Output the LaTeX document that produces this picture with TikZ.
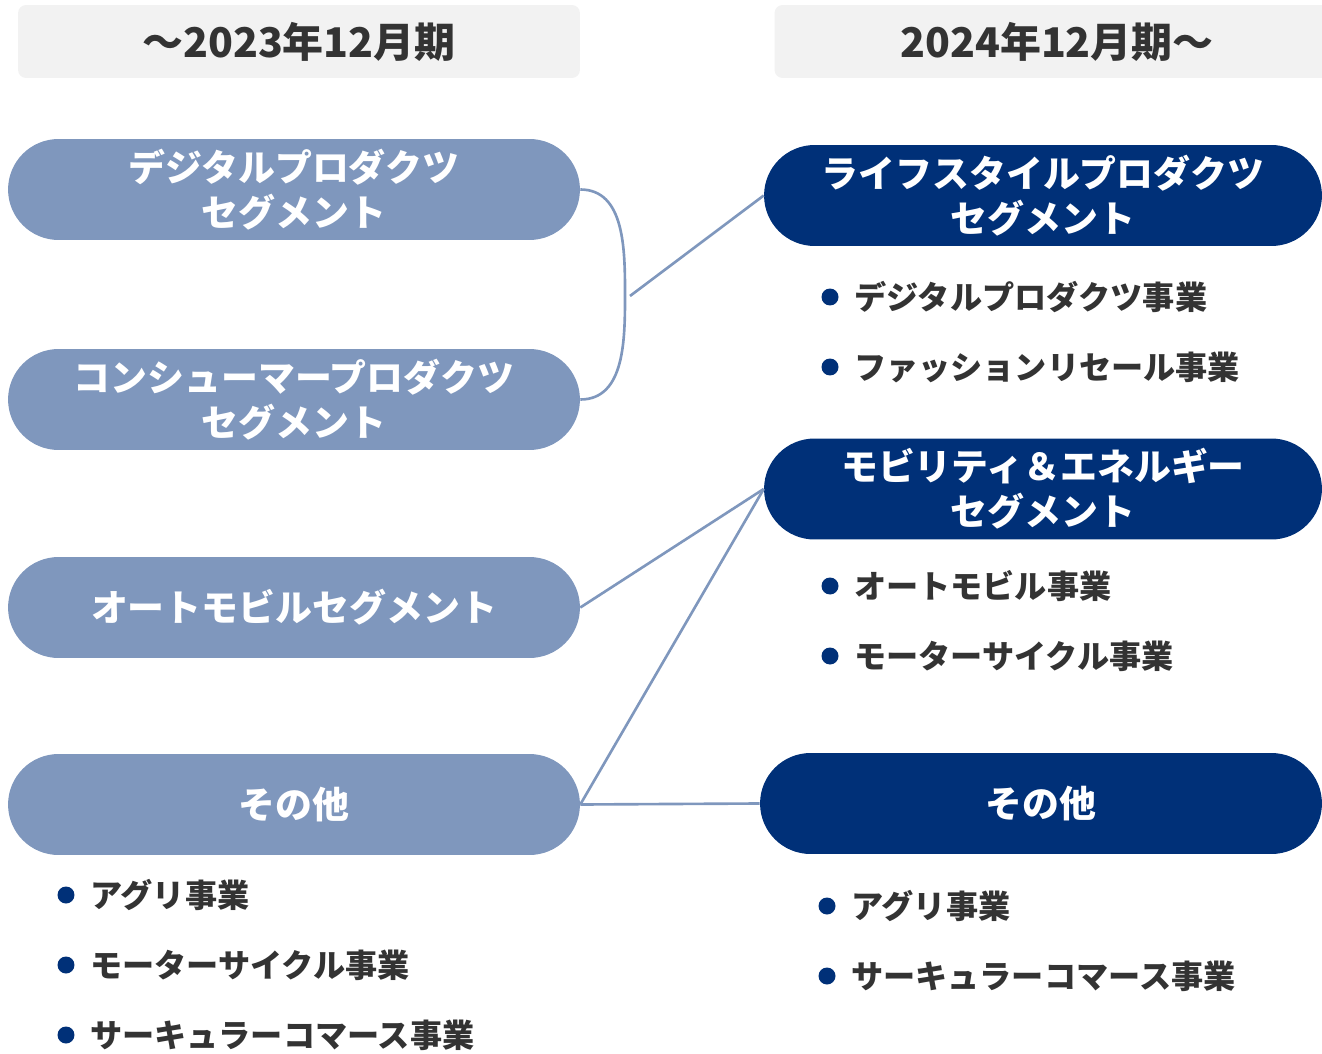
\documentclass[tikz,border=0pt]{standalone}
\usepackage{fontspec}
\usepackage{xcolor}
\usepackage{tikz}
\usetikzlibrary{positioning}
\newfontfamily\jp{Noto Sans CJK JP}
\definecolor{oldseg}{HTML}{7F97BD}
\definecolor{newseg}{HTML}{003078}
\definecolor{headgray}{HTML}{F2F2F2}
\definecolor{txtgray}{HTML}{333333}

\begin{document}
\begin{tikzpicture}[
    x=0.02cm, y=-0.02cm,
    node distance=0.3cm,
    head/.style={rectangle,fill=headgray,rounded corners=0.16cm,minimum width=11.24cm,minimum height=1.46cm,text=txtgray,font=\jp\bfseries\fontsize{23.3}{28}\selectfont},
    oldbox/.style={rectangle,fill=oldseg,rounded corners=1.01cm,minimum width=11.44cm,minimum height=2.02cm,align=center,text=white,font=\jp\bfseries\fontsize{21}{25.5}\selectfont},
    newbox/.style={oldbox,fill=newseg,minimum width=11.16cm},
    dot/.style={circle,fill=newseg,inner sep=0pt,minimum size=0.34cm},
    item/.style={inner sep=0pt,text=txtgray,font=\jp\bfseries\fontsize{18.3}{22}\selectfont},
    link/.style={draw=oldseg,line width=1.5pt}
]
    \useasboundingbox (0,0) rectangle (1322,1054);
    \clip (0,0) rectangle (1322,1054);

    % headers
    \node[head] (oldhead) at (299,41.5) {～2023年12月期};
    \node[head,minimum width=11.3cm] (newhead) at (1057,41.5) {2024年12月期～};

    % segments up to 2023
    \node[oldbox] (digital) at (294,189.5) {デジタルプロダクツ\\セグメント};
    \node[oldbox] (consumer) at (294,399.5) {コンシューマープロダクツ\\セグメント};
    \node[oldbox] (auto) at (294,607.5) {オートモビルセグメント};
    \node[oldbox] (oldother) at (294,804.5) {その他};

    % segments from 2024
    \node[newbox] (lifestyle) at (1043,195.5) {ライフスタイルプロダクツ\\セグメント};
    \node[newbox] (mobility) at (1043,489) {モビリティ＆エネルギー\\セグメント};
    \node[newbox,minimum width=11.24cm] (newother) at (1041,803.5) {その他};

    % businesses
    \node[dot] (d1) at (830,297) {};
    \node[item,right=of d1] (i1) {デジタルプロダクツ事業};
    \node[dot] (d2) at (830,367) {};
    \node[item,right=of d2] (i2) {ファッションリセール事業};
    \node[dot] (d3) at (830,586) {};
    \node[item,right=of d3] (i3) {オートモビル事業};
    \node[dot] (d4) at (830,656) {};
    \node[item,right=of d4] (i4) {モーターサイクル事業};
    \node[dot] (d5) at (827,906) {};
    \node[item,right=of d5] (i5) {アグリ事業};
    \node[dot] (d6) at (827,976) {};
    \node[item,right=of d6] (i6) {サーキュラーコマース事業};

    \node[dot] (e1) at (66,895) {};
    \node[item,right=of e1] (j1) {アグリ事業};
    \node[dot] (e2) at (66,965) {};
    \node[item,right=of e2] (j2) {モーターサイクル事業};
    \node[dot] (e3) at (66,1035) {};
    \node[item,right=of e3] (j3) {サーキュラーコマース事業};

    % connectors
    \coordinate (brace) at (625,294);
    \coordinate (join) at (630,296);
    \draw[link] (digital.east) to[out=0,in=90] (brace) to[out=-90,in=0] (consumer.east);
    \draw[link] (join) -- (lifestyle.west);
    \draw[link] (auto.east) -- (mobility.west);
    \draw[link] (oldother.east) -- (mobility.west);
    \draw[link] (oldother.east) -- (newother.west);
\end{tikzpicture}
\end{document}
